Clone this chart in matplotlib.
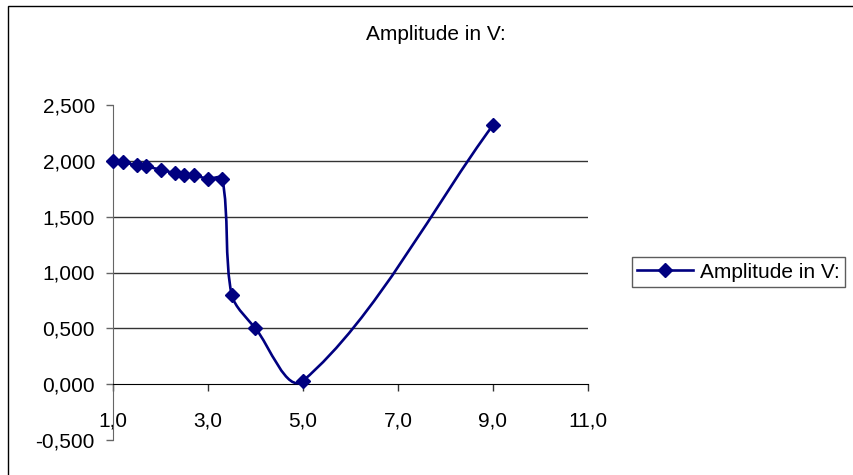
import matplotlib
matplotlib.use("Agg")
import matplotlib.pyplot as plt
import numpy as np
from matplotlib.path import Path
from matplotlib.patches import PathPatch, Rectangle
from matplotlib.lines import Line2D
from matplotlib.ticker import FuncFormatter

plt.rcParams['font.family'] = ['Liberation Sans', 'DejaVu Sans']

# data
x_vals = [1.0, 1.2, 1.5, 1.7, 2.0, 2.3, 2.5, 2.7, 3.0, 3.3, 3.5, 4.0, 5.0, 9.0]
y_vals = [2.00, 1.99, 1.96, 1.95, 1.92, 1.89, 1.87, 1.87, 1.84, 1.84, 0.80, 0.50, 0.03, 2.32]
series_name = "Amplitude in V:"
x_ticks = [1, 3, 5, 7, 9, 11]
y_ticks = [-0.5, 0.0, 0.5, 1.0, 1.5, 2.0, 2.5]
grid_levels = [0.5, 1.0, 1.5, 2.0]

navy = '#000080'
W, H = 854, 475
fig = plt.figure(figsize=(W / 100, H / 100), dpi=100)

# outer chart frame (runs off the right / bottom edge like the source)
fig.patches.append(Rectangle((8 / W, -0.1), 1.2, 1 - 6 / H + 0.1, transform=fig.transFigure,
                             fill=False, ec='black', lw=1.0))

ax = fig.add_axes([113 / W, 1 - 440 / H, (588 - 113) / W, (440 - 105) / H])
ax.set_xlim(1, 11)
ax.set_ylim(-0.5, 2.5)
ax.patch.set_visible(False)

ax.hlines(grid_levels, 1, 11, colors='#333333', lw=1.0, zorder=1)

# smoothed line like excel: bezier, tangents worked out in screen space so
# the short flat segments don't overshoot
pix = ax.transData.transform(np.column_stack([x_vals, y_vals]))
n = len(pix)
tang = []
for i in range(n):
    a = pix[i - 1] if i > 0 else pix[i]
    b = pix[i + 1] if i < n - 1 else pix[i]
    d = b - a
    tang.append(d / np.hypot(*d))
verts = [pix[0]]
codes = [Path.MOVETO]
for i in range(n - 1):
    seg = np.hypot(*(pix[i + 1] - pix[i]))
    verts += [pix[i] + tang[i] * seg * 0.3, pix[i + 1] - tang[i + 1] * seg * 0.3, pix[i + 1]]
    codes += [Path.CURVE4] * 3
verts = ax.transData.inverted().transform(np.array(verts))
ax.add_patch(PathPatch(Path(verts, codes), fill=False, ec=navy, lw=1.9, zorder=3,
                       clip_on=False))
ax.plot(x_vals, y_vals, ls='none', marker='D', ms=7, color=navy, zorder=4, clip_on=False)

for s in ['top', 'right']:
    ax.spines[s].set_visible(False)
ax.spines['left'].set_color('#666666')
ax.spines['bottom'].set_position(('data', 0))
ax.spines['bottom'].set_color('black')

ax.set_xticks(x_ticks)
ax.set_yticks(y_ticks)
ax.xaxis.set_major_formatter(FuncFormatter(lambda v, p: f"{v:.1f}".replace('.', ',')))
ax.yaxis.set_major_formatter(FuncFormatter(lambda v, p: f"{v:.3f}".replace('.', ',')))
ax.tick_params(axis='x', direction='out', length=5, width=1, colors='#333333',
               labelcolor='black', labelsize=15, pad=15)
ax.tick_params(axis='y', direction='out', length=5, width=1, colors='#666666',
               labelcolor='black', labelsize=15, pad=8)

fig.text(436 / W, 1 - 35 / H, series_name, ha='center', va='center', fontsize=15)

handle = Line2D([], [], color=navy, lw=1.9, marker='D', ms=7)
leg = fig.legend([handle], [series_name], loc='center left',
                 bbox_to_anchor=(632 / W, 1 - 272 / H), fontsize=15,
                 frameon=True, fancybox=False, handlelength=2.7, handletextpad=0.3,
                 borderpad=0.25, borderaxespad=0)
leg.get_frame().set_edgecolor('#333333')
leg.get_frame().set_linewidth(1.0)

fig.savefig('out.png', dpi=100)
